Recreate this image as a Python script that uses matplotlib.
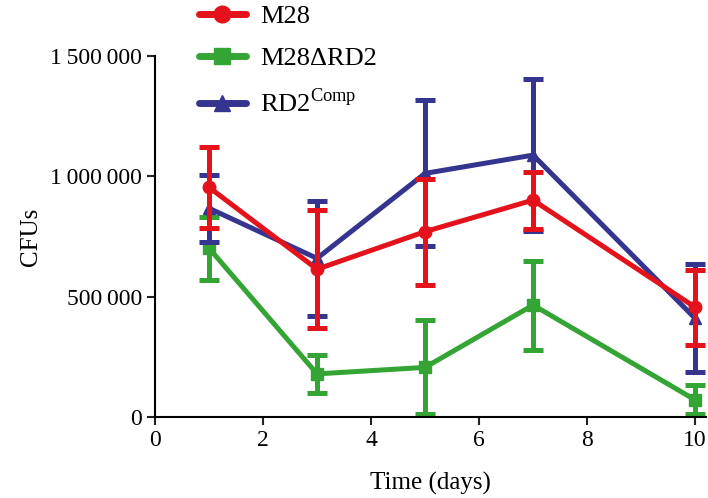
import matplotlib
matplotlib.use("Agg")
import matplotlib.pyplot as plt
from matplotlib.ticker import FuncFormatter
from matplotlib.lines import Line2D

plt.rcParams['font.family'] = ['Liberation Serif', 'DejaVu Serif']
plt.rcParams['mathtext.fontset'] = 'custom'
plt.rcParams['mathtext.rm'] = 'Liberation Serif'

days = [1, 3, 5, 7, 10]

# mean CFUs and error
m28 = [954000, 614000, 770000, 901000, 456000]
m28_err = [168000, 245000, 220000, 118000, 155000]

m28_drd2 = [701000, 179000, 206000, 465000, 71000]
m28_drd2_err = [130000, 80000, 195000, 185000, 60000]

rd2_comp = [867000, 659000, 1012000, 1088000, 410000]
rd2_comp_err = [138000, 240000, 303000, 316000, 225000]

labels = ['M28', 'M28\u0394RD2', 'RD2$^{\\mathrm{Comp}}$']
colors = ['#E3121B', '#34A535', '#35348F']
markers = ['o', 's', '^']

fig = plt.figure(figsize=(7.08, 4.98), dpi=100)
ax = fig.add_axes([0.219, 0.1627, 0.778, 0.725])

series = [(m28, m28_err), (m28_drd2, m28_drd2_err), (rd2_comp, rd2_comp_err)]
zorders = [4, 2, 3]
for (vals, err), c, m, z in zip(series, colors, markers, zorders):
    ax.errorbar(days, vals, yerr=err, color=c, marker=m, markersize=9,
                linewidth=3.6, elinewidth=3.6, capsize=7.5, capthick=3.6,
                solid_capstyle='round', zorder=z)

ax.set_xlim(0, 10.2)
ax.set_ylim(0, 1500000)
ax.set_xticks([0, 2, 4, 6, 8, 10])
ax.set_yticks([0, 500000, 1000000, 1500000])
ax.yaxis.set_major_formatter(FuncFormatter(lambda v, p: f"{int(v):,}".replace(',', '\u2009')))
ax.spines['top'].set_visible(False)
ax.spines['right'].set_visible(False)
ax.spines['left'].set_linewidth(1.5)
ax.spines['bottom'].set_linewidth(1.5)
ax.tick_params(direction='out', length=6, width=1.5, labelsize=17, color='#222222')
ax.set_xlabel('Time (days)', fontsize=18, labelpad=15)
ax.set_ylabel('CFUs', fontsize=18, labelpad=6)

handles = [Line2D([], [], color=c, marker=m, markersize=12, linewidth=5,
                  solid_capstyle='round') for c, m in zip(colors, markers)]
fig.legend(handles, labels, loc='upper left', bbox_to_anchor=(0.248, 1.038),
           frameon=False, fontsize=19, handlelength=1.75, handletextpad=0.55,
           labelspacing=0.7)

fig.savefig('out.png', dpi=100)
